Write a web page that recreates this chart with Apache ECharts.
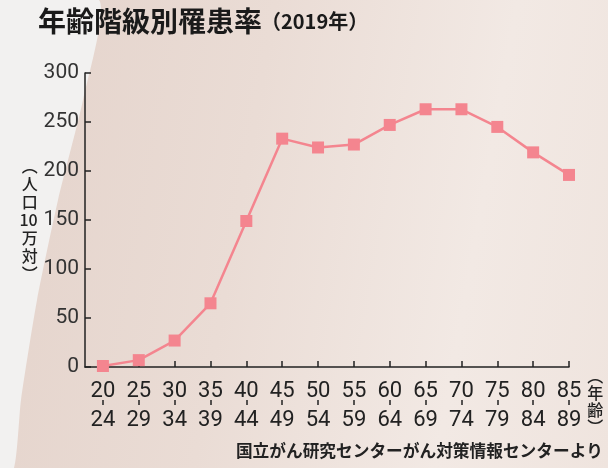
<!DOCTYPE html>
<html>
<head>
  <meta charset="UTF-8">
  <link rel="icon" href="data:,">
  <script src="https://cdn.jsdelivr.net/npm/echarts@6/dist/echarts.min.js"></script>
  <title>年齢階級別罹患率</title>
  <style>
    html, body { margin: 0; padding: 0; }
    #chart {
      width: 608px; height: 468px;
      background: linear-gradient(100deg, #e4d3cb 0%, #eadcd5 40%, #f2e9e4 75%, #efe4de 100%);
    }
  </style>
</head>
<body>
  <div id="chart"></div>
  <script>
    // age groups (lower / upper bound of each band)
    const ageFrom = ['20', '25', '30', '35', '40', '45', '50', '55', '60', '65', '70', '75', '80', '85'];
    const ageTo = ['24', '29', '34', '39', '44', '49', '54', '59', '64', '69', '74', '79', '84', '89'];
    // incidence per 100,000 (2019)
    const rates = [1, 7, 27, 65, 149, 233, 224, 227, 247, 263, 263, 245, 219, 196];
    const yTicks = [0, 50, 100, 150, 200, 250, 300];

    const numFont = '"Liberation Sans Narrow", "Roboto", sans-serif';
    const jpFont = '"Noto Sans CJK JP", sans-serif';
    const pink = '#f4858f';
    const tickIdx = ageFrom.map((_, i) => i);

    const chart = echarts.init(document.getElementById('chart'));
    chart.setOption({
      animation: false,
      graphic: [
        {
          type: 'polygon', z: -10, silent: true,
          shape: { points: [[0, 0], [99, 0], [83, 100], [58, 200], [37, 300], [21, 400], [14, 468], [0, 468]], smooth: 0.2 },
          style: { fill: '#f2f1f0' }
        },
        {
          type: 'text', left: 38, top: 7,
          style: { text: '年齢階級別罹患率', font: 'bold 28px ' + jpFont, fill: '#1a1a1a' }
        },
        {
          type: 'text', left: 261, top: 11,
          style: { text: '（2019年）', font: 'bold 20px ' + jpFont, fill: '#1a1a1a' }
        },
        {
          type: 'text', right: 5, top: 442,
          style: { text: '国立がん研究センターがん対策情報センターより', font: 'bold 16.7px ' + jpFont, fill: '#222' }
        }
      ],
      grid: { left: 85, right: 39, top: 73, bottom: 101 },
      xAxis: [{
        type: 'value',
        min: -0.5,
        max: 13,
        name: '︵\n年\n齢\n︶',
        nameLocation: 'end',
        nameGap: 10,
        nameTextStyle: { fontFamily: jpFont, fontSize: 16, fontWeight: 500, color: '#222', lineHeight: 17, verticalAlign: 'top' },
        splitLine: { show: false },
        axisLine: { show: true, lineStyle: { color: '#222', width: 1.5 } },
        axisTick: { show: true, inside: true, length: 6, customValues: tickIdx, lineStyle: { color: '#222', width: 1.5 } },
        axisLabel: {
          customValues: tickIdx,
          margin: 10,
          lineHeight: 29,
          fontFamily: numFont,
          fontSize: 22,
          color: '#222',
          formatter: v => ageFrom[v] + '\n' + ageTo[v]
        }
      }, {
        // short dash between the two rows of each age label
        type: 'value',
        position: 'bottom',
        offset: 33,
        min: -0.5,
        max: 13,
        splitLine: { show: false },
        axisLine: { show: false },
        axisLabel: { show: false },
        axisTick: { show: true, inside: false, length: 5, customValues: tickIdx, lineStyle: { color: '#222', width: 1.5 } }
      }],
      yAxis: {
        type: 'value',
        min: 0,
        max: 300,
        interval: 50,
        name: '︵\n人\n口\n10\n万\n対\n︶',
        nameLocation: 'middle',
        nameGap: 29,
        nameRotate: 0,
        nameTextStyle: { fontFamily: jpFont, fontSize: 16, color: '#222', lineHeight: 18, fontWeight: 500 },
        splitLine: { show: false },
        axisLine: { show: true, onZero: false, lineStyle: { color: '#222', width: 1.5 } },
        axisTick: { show: true, inside: true, length: 6, lineStyle: { color: '#222', width: 1.5 } },
        axisLabel: {
          margin: 6,
          fontFamily: numFont,
          fontSize: 21,
          color: '#333',
          formatter: v => (yTicks.includes(v) ? String(v) : '')
        }
      },
      series: [{
        type: 'line',
        data: rates.map((v, i) => [i, v]),
        symbol: 'rect',
        symbolSize: 12,
        itemStyle: { color: pink },
        lineStyle: { color: pink, width: 2.5 },
        clip: false
      }]
    });
  </script>
</body>
</html>
